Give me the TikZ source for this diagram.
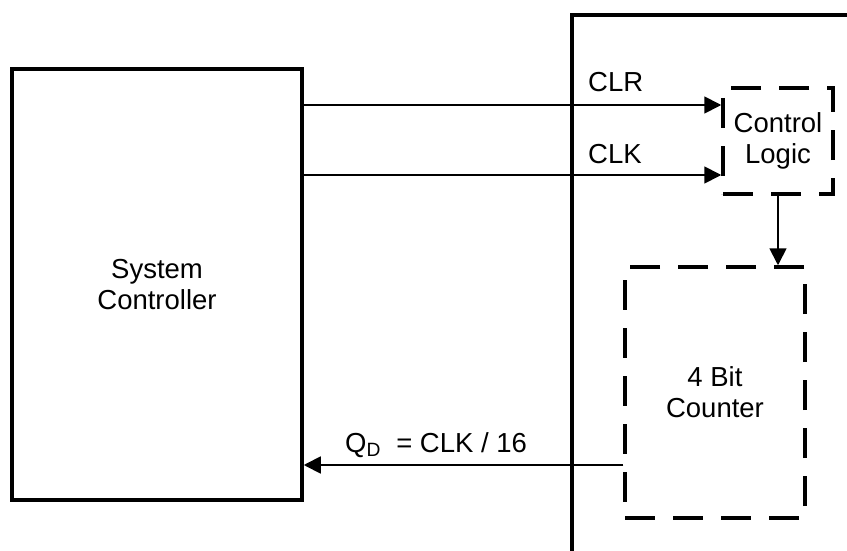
\documentclass[tikz,border=0pt]{standalone}
\usepackage{fontspec}
\setmainfont{Liberation Sans}
\usetikzlibrary{arrows.meta}
\begin{document}
\begin{tikzpicture}[x=1pt,y=-1pt, font=\fontsize{27.5}{31}\selectfont,
  solidbox/.style={draw, line width=3.5pt, inner sep=0pt, align=center},
  dashbox/.style={draw, line width=3.5pt, dash pattern=on 30pt off 18pt, inner sep=0pt, align=center},
  sig/.style={line width=1.8pt, -{Triangle[length=17pt,width=17pt]}},
  lbl/.style={inner sep=0pt, anchor=base west}]
\useasboundingbox (0,0) rectangle (847,551);
\clip (0,0) rectangle (847,551);
\node[solidbox, minimum width=290pt, minimum height=431pt] (sys) at (157,284.5) {System\\Controller};
\coordinate (bigTR) at (870,15);
\coordinate (bigTL) at (572,15);
\coordinate (bigBL) at (572,580);
\draw[line width=3.5pt] (bigTR) -- (bigTL) -- (bigBL);
\node[dashbox, minimum width=110pt, minimum height=106pt] (ctl) at (778,141) {Control\\Logic};
\node[dashbox, minimum width=180pt, minimum height=251pt] (cnt) at (715,392.5) {4 Bit\\Counter};
\coordinate (yclr) at (0,105);
\coordinate (yclk) at (0,175);
\coordinate (yqd) at (0,465);
\draw[sig] (sys.east |- yclr) -- (ctl.west |- yclr);
\draw[sig] (sys.east |- yclk) -- (ctl.west |- yclk);
\draw[sig] (ctl.south) -- (ctl.south |- cnt.north);
\draw[sig] (cnt.west |- yqd) -- (sys.east |- yqd);
\node[lbl] (clr) at (588,92) {CLR};
\node[lbl] (clk) at (588,163) {CLK};
\node[lbl] (qd) at (345,452) {Q\textsubscript{D}\ \ = CLK / 16};
\end{tikzpicture}
\end{document}
